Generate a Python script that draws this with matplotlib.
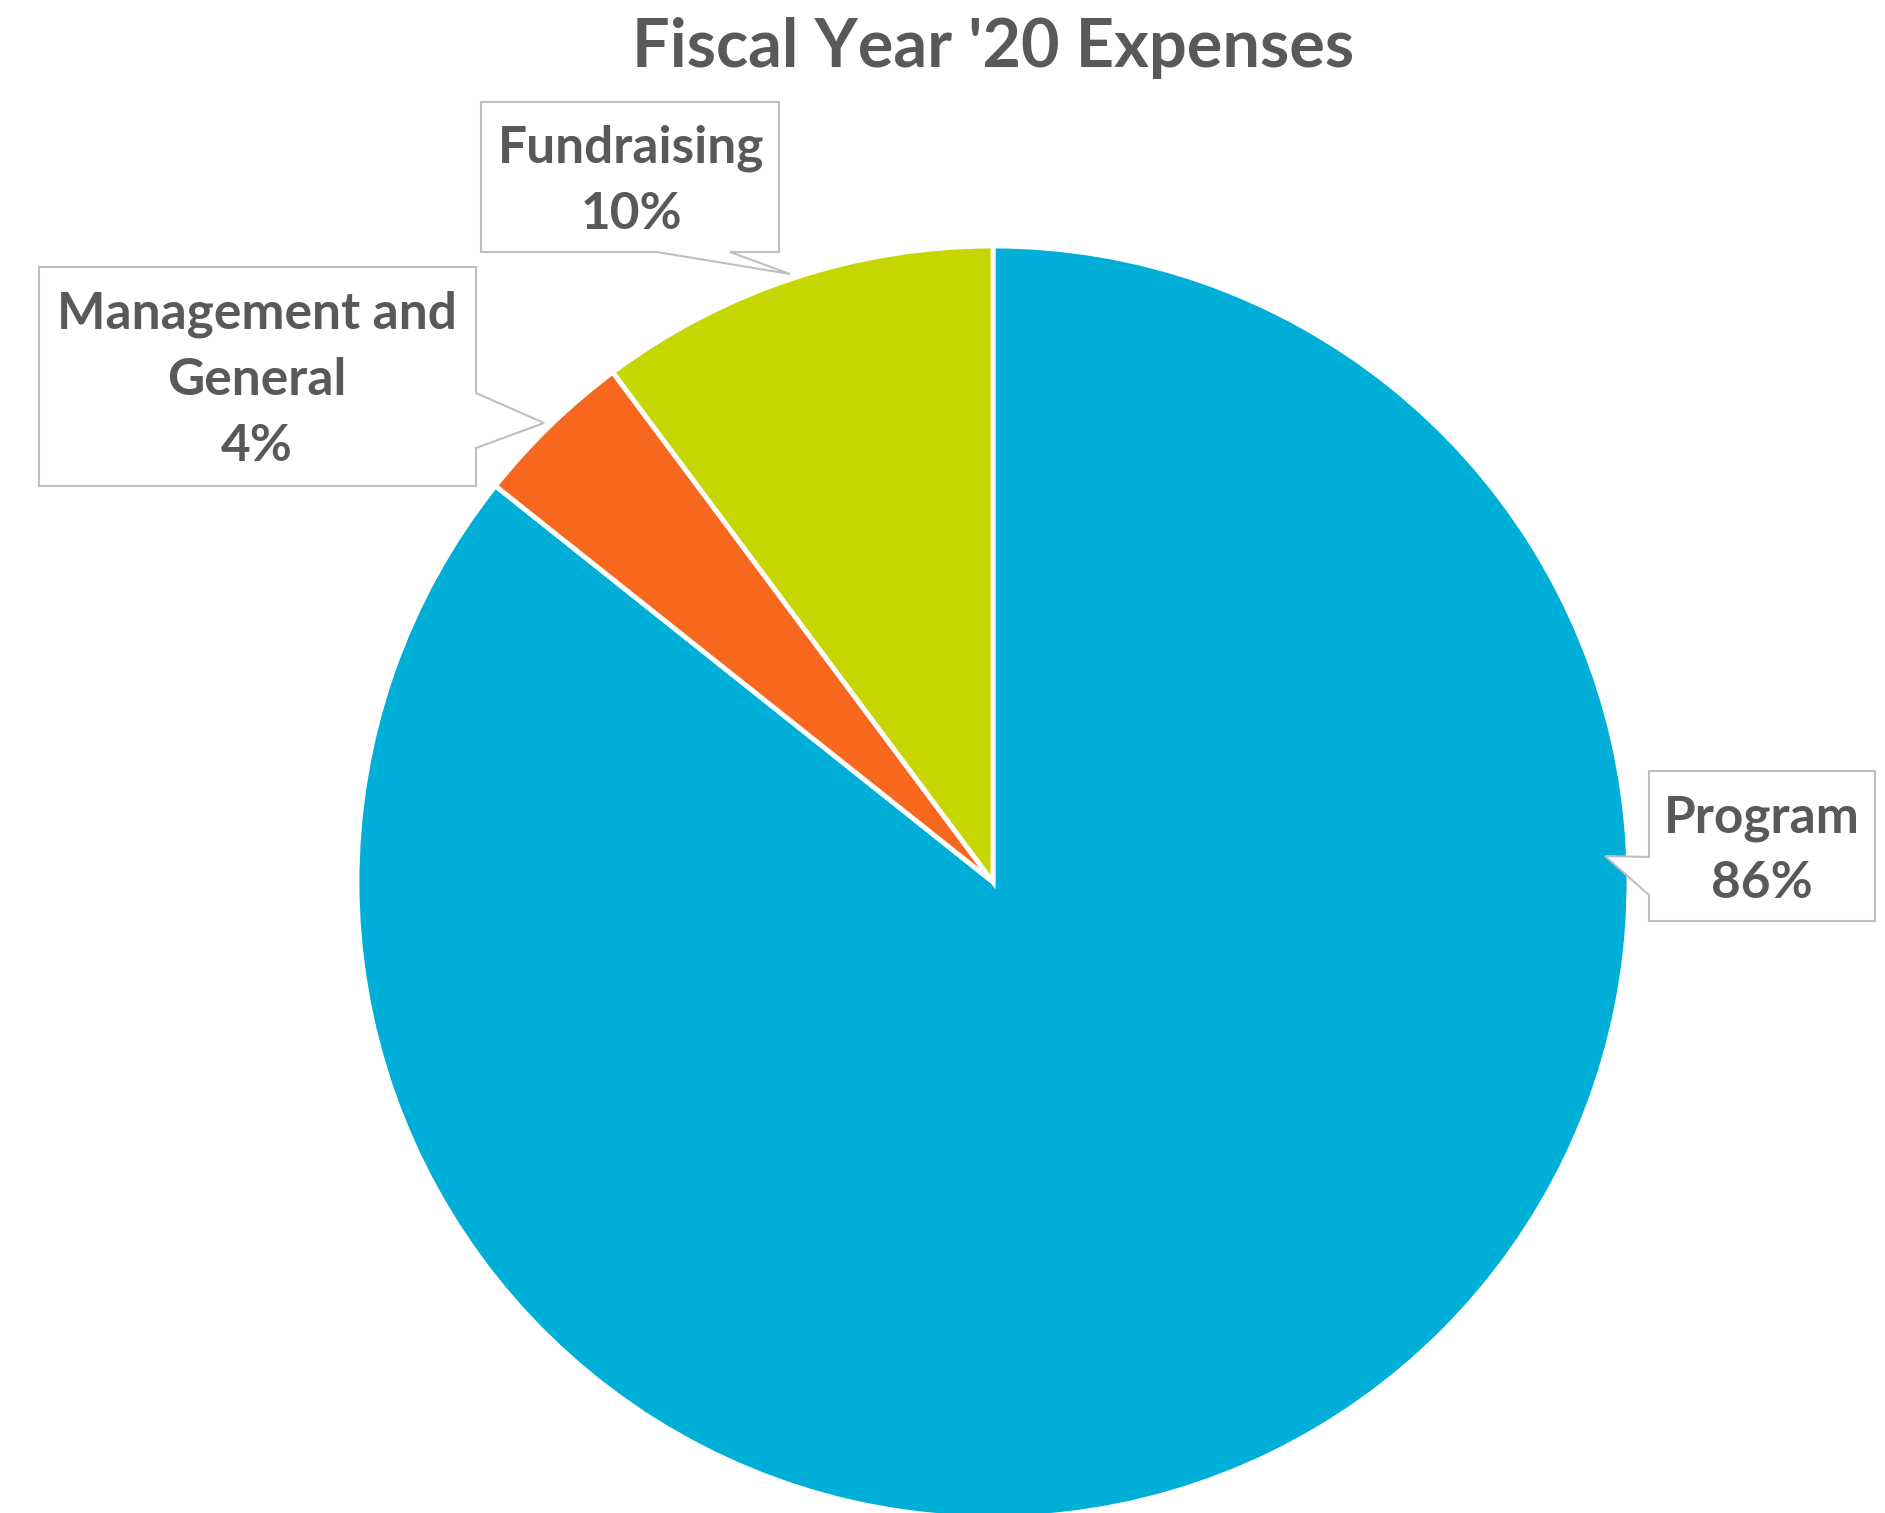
import matplotlib
matplotlib.use("Agg")
import matplotlib.pyplot as plt
from matplotlib.patches import Polygon

# ---- data ----
categories = ["Program", "Management and\nGeneral", "Fundraising"]
values = [85.7, 4.1, 10.2]
colors = ["#00AFD7", "#F7681E", "#C6D600"]
title = "Fiscal Year '20 Expenses"

W, H = 1885, 1513
fig = plt.figure(figsize=(W / 100, H / 100), dpi=100)
ax = fig.add_axes([0, 0, 1, 1])

def Y(y):
    return H - y

ax.pie(values, colors=colors, startangle=90, counterclock=False,
       center=(993, Y(882)), radius=636,
       wedgeprops=dict(edgecolor="white", linewidth=3.5))
ax.set_xlim(0, W)
ax.set_ylim(0, H)
ax.set_aspect("equal")
ax.axis("off")

FONT = ["Lato", "DejaVu Sans"]
TXT = "#595959"
EDGE = "#BFBFBF"

ax.text(993, Y(48), title, ha="center", va="center", fontsize=48,
        fontweight="bold", color=TXT, family=FONT)

def callout(box, side, notch, tip):
    x0, y0, x1, y1 = box
    if side == "bottom":
        pts = [(x0, y0), (x1, y0), (x1, y1), (notch[1], y1), tip, (notch[0], y1), (x0, y1)]
    elif side == "right":
        pts = [(x0, y0), (x1, y0), (x1, notch[0]), tip, (x1, notch[1]), (x1, y1), (x0, y1)]
    else:  # left
        pts = [(x0, y0), (x1, y0), (x1, y1), (x0, y1), (x0, notch[1]), tip, (x0, notch[0])]
    poly = Polygon([(px, Y(py)) for px, py in pts], closed=True,
                   facecolor="white", edgecolor=EDGE, linewidth=1.5, zorder=5)
    ax.add_patch(poly)

def pct(v):
    return f"{round(v / sum(values) * 100)}%"

LS = 1.5
FS = 37

# Program
callout((1649, 771, 1875, 921), "left", (857, 895), (1605, 856))
ax.text(1762, Y(851), f"{categories[0]}\n{pct(values[0])}", ha="center", va="center",
        fontsize=FS, fontweight="bold", color=TXT, family=FONT, linespacing=LS, zorder=6)

# Management and General
callout((39, 267, 476, 486), "right", (393, 448), (544, 423))
ax.text(257, Y(380), f"{categories[1]}\n{pct(values[1])}", ha="center", va="center",
        fontsize=FS, fontweight="bold", color=TXT, family=FONT, linespacing=LS, zorder=6)

# Fundraising
callout((481, 102, 779, 252), "bottom", (657, 730), (790, 274))
ax.text(631, Y(181), f"{categories[2]}\n{pct(values[2])}", ha="center", va="center",
        fontsize=FS, fontweight="bold", color=TXT, family=FONT, linespacing=LS, zorder=6)

fig.savefig("out.png", dpi=100, facecolor="white")
